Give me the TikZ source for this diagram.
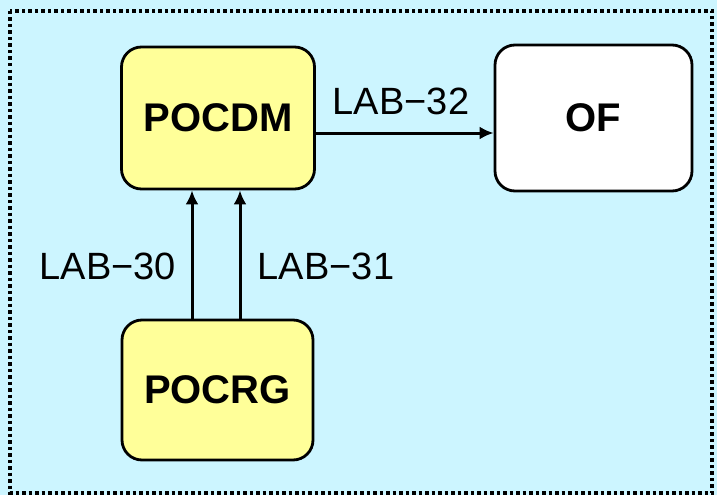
\documentclass[tikz,border=0pt]{standalone}
\usepackage{fontspec}
\setmainfont{Liberation Sans}
\usetikzlibrary{arrows.meta}
\definecolor{hatter}{HTML}{CCF5FF}
\definecolor{sarga}{HTML}{FFFF99}
\tikzset{
  doboz/.style={draw, line width=2.8pt, rounded corners=20pt, font=\fontsize{40}{42}\selectfont\bfseries},
  nyil/.style={line width=3pt, -{Latex[length=14pt,width=13pt]}},
  felirat/.style={font=\fontsize{38}{40}\selectfont}
}
\begin{document}
\begin{tikzpicture}[x=1pt,y=-1pt]
        % Rögzítjük a kép méretét és kitöltjük a hátteret
        \useasboundingbox (0,0) rectangle (717,495);
        \fill[hatter] (0,0) rectangle (717,495);
        % Megrajzoljuk a pontozott keretet
        \draw[line width=3.2pt, dash pattern=on 3.5pt off 3pt] (10,11) rectangle (712,493);
        % Elhelyezzük a három dobozt
        \node[doboz, fill=sarga, minimum width=193pt, minimum height=142pt] (pocdm) at (218,118) {POCDM};
        \node[doboz, fill=white, minimum width=197pt, minimum height=146pt] (of) at (593.5,118) {OF};
        \node[doboz, fill=sarga, minimum width=191pt, minimum height=140pt] (pocrg) at (217.5,390) {POCRG};
        % Megrajzoljuk a nyilakat
        \draw[nyil] ([xshift=-25.5pt]pocrg.north) -- ([xshift=-26pt]pocdm.south);
        \draw[nyil] ([xshift=22.5pt]pocrg.north) -- ([xshift=22pt]pocdm.south);
        \draw[nyil] (pocdm.east |- 0,133) -- (of.west |- 0,133);
        % Beírjuk a nyilak feliratait
        \node[felirat] (lab32) at (401,101) {LAB−32};
        \node[felirat] (lab30) at (108,266) {LAB−30};
        \node[felirat] (lab31) at (326,266) {LAB−31};
    \end{tikzpicture}
\end{document}
